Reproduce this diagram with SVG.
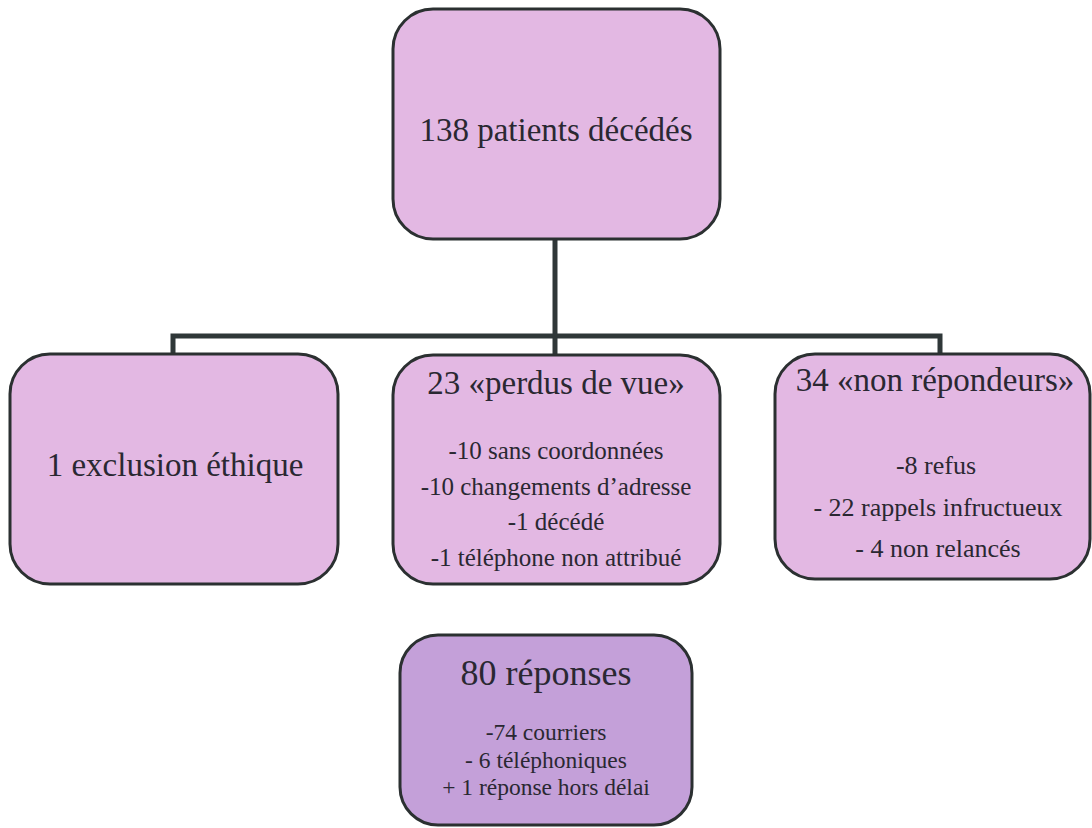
<svg xmlns="http://www.w3.org/2000/svg" width="1092" height="828" viewBox="0 0 1092 828">
<style>
.box{fill:#e3b8e3;stroke:#2b3031;stroke-width:3}
.box2{fill:#c4a0d9;stroke:#2b3031;stroke-width:3}
.t{font-family:"Liberation Serif","Times New Roman",serif;fill:#2a2832;text-anchor:middle}
.h{font-size:33px}
.s{font-size:25px}
.conn{fill:none;stroke:#2f3738;stroke-width:5}
</style>
<rect width="1092" height="828" fill="#ffffff"/>
<g id="connectors">
<path class="conn" d="M555,240 V337"/>
<path class="conn" d="M173,354 V336 H940 V354"/>
<path class="conn" d="M555,336 V356"/>
</g>
<g id="n-top">
<rect class="box" x="393" y="9" width="327" height="230" rx="40"/>
<text class="t h" x="556" y="141">138 patients décédés</text>
</g>
<g id="n-exclusion">
<rect class="box" x="10" y="354" width="328" height="230" rx="40"/>
<text class="t h" x="175" y="476">1 exclusion éthique</text>
</g>
<g id="n-perdus">
<rect class="box" x="393" y="355" width="327" height="229" rx="40"/>
<text class="t h" x="556" y="394">23 «perdus de vue»</text>
<text class="t s" x="556" y="459">-10 sans coordonnées</text>
<text class="t s" x="556" y="495">-10 changements d’adresse</text>
<text class="t s" x="556" y="530">-1 décédé</text>
<text class="t s" x="556" y="566">-1 téléphone non attribué</text>
</g>
<g id="n-nonrep">
<rect class="box" x="775" y="354" width="315" height="225" rx="40"/>
<text class="t h" x="935" y="391">34 «non répondeurs»</text>
<text class="t" font-size="26" x="936" y="474">-8 refus</text>
<text class="t" font-size="26" x="938" y="516">- 22 rappels infructueux</text>
<text class="t" font-size="26" x="938" y="557">- 4 non relancés</text>
</g>
<g id="n-reponses">
<rect class="box2" x="400" y="635" width="292" height="190" rx="38"/>
<text class="t" font-size="36" x="546" y="685">80 réponses</text>
<text class="t" font-size="23.5" x="546" y="740">-74 courriers</text>
<text class="t" font-size="23.5" x="546" y="768">- 6 téléphoniques</text>
<text class="t" font-size="23.5" x="546" y="795">+ 1 réponse hors délai</text>
</g>
</svg>
